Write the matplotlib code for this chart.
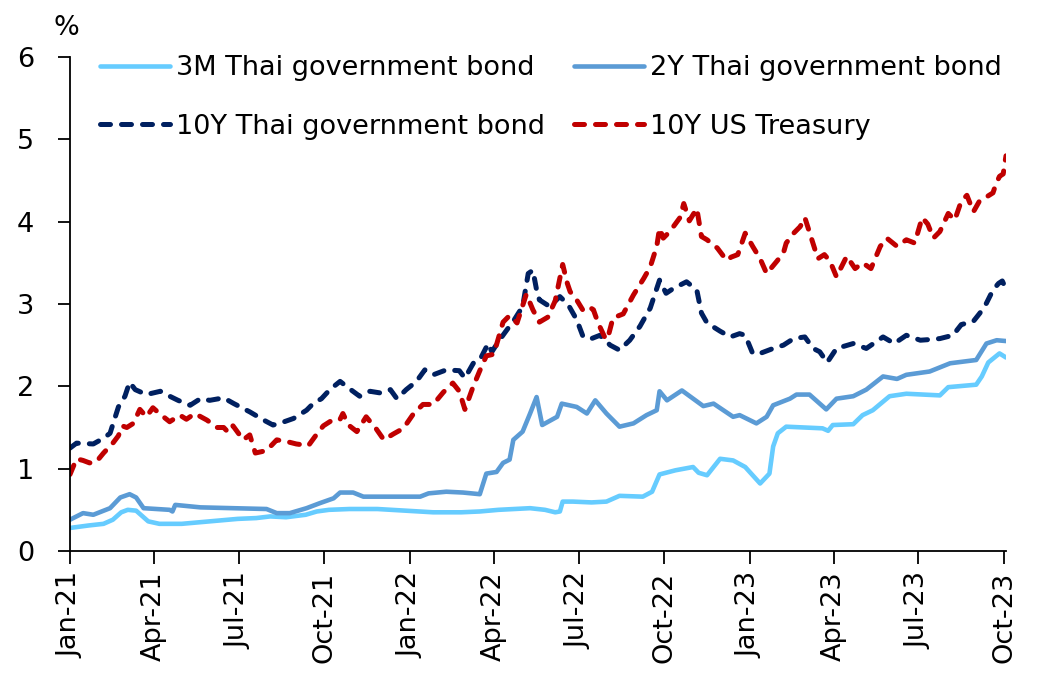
import matplotlib
matplotlib.use("Agg")
import matplotlib.pyplot as plt
import matplotlib.dates as mdates
import pandas as pd

# ---------------- data ----------------
m3_dates = ["2021-01-01","2021-01-21","2021-02-06","2021-02-16","2021-02-25","2021-03-04","2021-03-13",
            "2021-03-20","2021-03-26","2021-04-07","2021-05-01","2021-05-21","2021-06-10","2021-06-30",
            "2021-07-20","2021-08-04","2021-08-21","2021-09-11","2021-09-23","2021-10-06","2021-10-28",
            "2021-11-27","2021-12-27","2022-01-26","2022-02-25","2022-03-17","2022-04-06","2022-05-10",
            "2022-05-26","2022-06-06","2022-06-11","2022-06-14","2022-06-25","2022-07-15","2022-07-31",
            "2022-08-14","2022-09-08","2022-09-18","2022-09-26","2022-10-13","2022-11-01","2022-11-07",
            "2022-11-16","2022-11-30","2022-12-14","2022-12-27","2023-01-12","2023-01-22","2023-01-26",
            "2023-01-31","2023-02-09","2023-03-20","2023-03-26","2023-03-31","2023-04-22","2023-05-02",
            "2023-05-13","2023-05-31","2023-06-18","2023-07-24","2023-08-02","2023-09-01","2023-09-07",
            "2023-09-14","2023-09-26","2023-10-03"]
m3_values = [0.28,0.31,0.33,0.38,0.47,0.50,0.49,
             0.42,0.36,0.33,0.33,0.35,0.37,0.39,
             0.40,0.42,0.41,0.44,0.48,0.50,0.51,
             0.51,0.49,0.47,0.47,0.48,0.50,0.52,
             0.50,0.47,0.48,0.60,0.60,0.59,0.60,
             0.67,0.66,0.72,0.93,0.98,1.02,0.95,
             0.92,1.12,1.10,1.02,0.82,0.94,1.27,
             1.43,1.51,1.49,1.46,1.53,1.54,1.65,
             1.71,1.88,1.91,1.89,1.99,2.02,2.12,
             2.29,2.40,2.35]

y2_dates = ["2021-01-01","2021-01-15","2021-01-26","2021-02-13","2021-02-24","2021-03-06","2021-03-13",
            "2021-03-21","2021-04-18","2021-04-21","2021-04-24","2021-05-21","2021-06-25","2021-07-31",
            "2021-08-11","2021-08-25","2021-09-12","2021-09-26","2021-10-11","2021-10-18","2021-11-01",
            "2021-11-12","2021-12-14","2022-01-12","2022-01-21","2022-02-09","2022-02-27","2022-03-17",
            "2022-03-24","2022-04-04","2022-04-11","2022-04-18","2022-04-22","2022-05-02","2022-05-10",
            "2022-05-17","2022-05-23","2022-06-08","2022-06-13","2022-06-29","2022-07-10","2022-07-19",
            "2022-07-31","2022-08-14","2022-08-29","2022-09-12","2022-09-23","2022-09-26","2022-10-04",
            "2022-10-20","2022-11-12","2022-11-23","2022-12-14","2022-12-21","2023-01-08","2023-01-19",
            "2023-01-26","2023-02-13","2023-02-20","2023-03-06","2023-03-24","2023-04-04","2023-04-22",
            "2023-05-06","2023-05-24","2023-06-08","2023-06-18","2023-07-13","2023-08-04","2023-09-01",
            "2023-09-12","2023-09-23","2023-10-03"]
y2_values = [0.38,0.46,0.44,0.52,0.65,0.69,0.65,
             0.52,0.50,0.48,0.56,0.53,0.52,0.51,
             0.46,0.46,0.52,0.58,0.64,0.71,0.71,
             0.66,0.66,0.66,0.70,0.72,0.71,0.69,
             0.94,0.96,1.07,1.11,1.35,1.45,1.67,
             1.87,1.53,1.63,1.79,1.75,1.67,1.83,
             1.67,1.51,1.55,1.65,1.71,1.94,1.83,
             1.95,1.76,1.79,1.63,1.65,1.55,1.63,
             1.77,1.85,1.90,1.90,1.72,1.85,1.88,
             1.96,2.12,2.09,2.14,2.18,2.28,2.32,
             2.52,2.56,2.55]

th10_dates = ["2021-01-01","2021-01-08","2021-01-26","2021-02-06","2021-02-13","2021-02-22","2021-03-01",
              "2021-03-06","2021-03-12","2021-03-24","2021-04-08","2021-04-18","2021-04-27","2021-05-10",
              "2021-05-21","2021-05-31","2021-06-15","2021-06-26","2021-07-13","2021-07-28","2021-08-07",
              "2021-08-14","2021-08-29","2021-09-12","2021-09-19","2021-09-28","2021-10-07","2021-10-18",
              "2021-10-27","2021-11-08","2021-11-19","2021-11-30","2021-12-11","2021-12-18","2021-12-28",
              "2022-01-08","2022-01-17","2022-01-26","2022-02-09","2022-02-23","2022-03-01","2022-03-10",
              "2022-03-17","2022-03-26","2022-03-30","2022-04-07","2022-04-16","2022-04-22","2022-05-02",
              "2022-05-08","2022-05-13","2022-05-17","2022-05-20","2022-05-31","2022-06-11","2022-06-20",
              "2022-06-29","2022-07-06","2022-07-15","2022-07-24","2022-08-04","2022-08-14","2022-08-25",
              "2022-09-05","2022-09-16","2022-09-26","2022-10-03","2022-10-11","2022-10-25","2022-11-05",
              "2022-11-10","2022-11-16","2022-11-30","2022-12-11","2022-12-21","2022-12-27","2023-01-04",
              "2023-01-12","2023-01-26","2023-02-06","2023-02-17","2023-03-01","2023-03-10","2023-03-17",
              "2023-03-25","2023-04-04","2023-04-22","2023-05-06","2023-05-24","2023-06-05","2023-06-18",
              "2023-07-03","2023-07-15","2023-07-24","2023-08-07","2023-08-16","2023-08-29","2023-09-05",
              "2023-09-12","2023-09-19","2023-09-25","2023-09-29","2023-10-03"]
th10_values = [1.25,1.31,1.30,1.37,1.43,1.75,1.88,
               2.05,1.96,1.90,1.94,1.88,1.83,1.77,
               1.85,1.83,1.86,1.79,1.69,1.59,1.53,
               1.55,1.61,1.71,1.79,1.85,1.96,2.06,
               1.98,1.88,1.94,1.92,1.96,1.85,1.96,
               2.06,2.20,2.14,2.20,2.19,2.10,2.28,
               2.32,2.52,2.42,2.56,2.70,2.79,2.97,
               3.37,3.41,3.17,3.05,2.97,3.09,2.99,
               2.81,2.60,2.58,2.62,2.50,2.44,2.56,
               2.73,2.95,3.29,3.13,3.19,3.27,3.17,
               2.89,2.77,2.67,2.60,2.64,2.62,2.40,
               2.40,2.46,2.50,2.58,2.60,2.46,2.42,
               2.29,2.46,2.52,2.46,2.60,2.52,2.62,
               2.56,2.57,2.58,2.62,2.75,2.79,2.89,
               3.01,3.17,3.25,3.28,3.18]

us10_dates = ["2021-01-01","2021-01-08","2021-01-15","2021-01-22","2021-01-29","2021-02-06","2021-02-16",
              "2021-02-22","2021-02-26","2021-03-03","2021-03-10","2021-03-17","2021-03-24","2021-03-31",
              "2021-04-08","2021-04-18","2021-04-29","2021-05-06","2021-05-15","2021-05-28","2021-06-08",
              "2021-06-15","2021-06-20","2021-06-25","2021-07-06","2021-07-13","2021-07-19","2021-07-31",
              "2021-08-11","2021-08-25","2021-09-01","2021-09-14","2021-09-23","2021-09-30","2021-10-11",
              "2021-10-18","2021-10-21","2021-10-27","2021-11-05","2021-11-15","2021-11-26","2021-12-04",
              "2021-12-14","2021-12-25","2022-01-05","2022-01-15","2022-01-26","2022-02-06","2022-02-16",
              "2022-02-23","2022-03-01","2022-03-10","2022-03-17","2022-03-24","2022-04-01","2022-04-11",
              "2022-04-18","2022-04-26","2022-05-06","2022-05-13","2022-05-20","2022-05-29","2022-06-06",
              "2022-06-14","2022-06-19","2022-06-22","2022-06-29","2022-07-06","2022-07-13","2022-07-17",
              "2022-07-22","2022-07-29","2022-08-01","2022-08-07","2022-08-18","2022-08-29","2022-09-09",
              "2022-09-16","2022-09-23","2022-09-26","2022-09-30","2022-10-07","2022-10-18","2022-10-22",
              "2022-10-28","2022-11-05","2022-11-10","2022-11-16","2022-11-27","2022-12-07","2022-12-12",
              "2022-12-19","2022-12-27","2023-01-04","2023-01-12","2023-01-19","2023-01-30","2023-02-06",
              "2023-02-09","2023-02-17","2023-02-24","2023-03-01","2023-03-08","2023-03-15","2023-03-22",
              "2023-03-28","2023-04-04","2023-04-15","2023-04-24","2023-05-02","2023-05-11","2023-05-21",
              "2023-05-28","2023-06-08","2023-06-18","2023-06-27","2023-07-05","2023-07-11","2023-07-17",
              "2023-07-24","2023-08-02","2023-08-09","2023-08-16","2023-08-22","2023-08-29","2023-09-05",
              "2023-09-12","2023-09-19","2023-09-22","2023-09-26","2023-09-30","2023-10-03"]
us10_values = [0.93,1.12,1.10,1.07,1.08,1.19,1.31,
               1.40,1.52,1.50,1.55,1.72,1.63,1.74,
               1.66,1.57,1.65,1.60,1.67,1.59,1.50,
               1.50,1.44,1.52,1.35,1.41,1.19,1.22,
               1.35,1.32,1.30,1.28,1.42,1.52,1.60,
               1.60,1.67,1.53,1.45,1.63,1.48,1.35,
               1.42,1.49,1.67,1.78,1.78,1.93,2.04,
               1.94,1.72,2.00,2.19,2.37,2.39,2.78,
               2.86,2.77,3.12,2.93,2.78,2.84,3.04,
               3.48,3.25,3.15,3.05,2.92,2.96,2.93,
               2.77,2.60,2.57,2.83,2.88,3.11,3.31,
               3.45,3.70,3.92,3.80,3.88,4.05,4.22,
               4.01,4.16,3.82,3.78,3.68,3.53,3.57,
               3.60,3.86,3.70,3.55,3.37,3.52,3.62,
               3.74,3.86,3.94,4.05,3.80,3.55,3.60,
               3.52,3.33,3.58,3.43,3.50,3.43,3.70,
               3.80,3.70,3.78,3.74,4.05,3.97,3.80,
               3.88,4.10,4.02,4.25,4.32,4.12,4.26,
               4.30,4.35,4.45,4.55,4.58,4.80]

labels = ["3M Thai government bond", "2Y Thai government bond",
          "10Y Thai government bond", "10Y US Treasury"]
colors = ["#66CCFF", "#5B9BD5", "#002060", "#C00000"]
y_ticks = [0, 1, 2, 3, 4, 5, 6]
x_start, x_end = "2021-01-01", "2023-10-03"

# ---------------- figure ----------------
plt.rcParams['font.family'] = ['DejaVu Sans']
W, H = 1038, 677
fig = plt.figure(figsize=(W / 100, H / 100), dpi=100)
ax = fig.add_axes([70 / W, 1 - 551 / H, (1006 - 70) / W, (551 - 57) / H])

def d(lst):
    return pd.to_datetime(lst)

l3m, = ax.plot(d(m3_dates), m3_values, color=colors[0], lw=3.3, solid_capstyle='round',
               solid_joinstyle='round', label=labels[0])
l2y, = ax.plot(d(y2_dates), y2_values, color=colors[1], lw=3.3, solid_capstyle='round',
               solid_joinstyle='round', label=labels[1])
lth, = ax.plot(d(th10_dates), th10_values, color=colors[2], lw=3.6, dashes=(2.0, 2.2),
               dash_capstyle='round', label=labels[2])
lus, = ax.plot(d(us10_dates), us10_values, color=colors[3], lw=3.6, dashes=(2.0, 2.2),
               dash_capstyle='round', label=labels[3])

ax.set_ylim(0, 6)
ax.set_yticks(y_ticks)
ax.set_xlim(pd.Timestamp(x_start), pd.Timestamp(x_end))
ax.xaxis.set_major_locator(mdates.MonthLocator(bymonth=[1, 4, 7, 10]))
ax.xaxis.set_major_formatter(mdates.DateFormatter('%b-%y'))
for lab in ax.get_xticklabels():
    lab.set_rotation(90)

for s in ['top', 'right']:
    ax.spines[s].set_visible(False)
for s in ['left', 'bottom']:
    ax.spines[s].set_linewidth(1.3)
    ax.spines[s].set_color('black')
ax.tick_params(axis='both', direction='out', length=9, width=1.3, labelsize=19.5)
ax.tick_params(axis='y', pad=17)
ax.tick_params(axis='x', pad=6)

fig.text(66 / W, 1 - 28 / H, "%", fontsize=19.5, ha='center', va='center')

# row-wise legend order (matplotlib fills column by column)
handles = [l3m, lth, l2y, lus]
leg = fig.legend(handles, [h.get_label() for h in handles],
                 loc='upper left', bbox_to_anchor=(100 / W, 1 - 55 / H), ncol=2, frameon=False,
                 fontsize=19.5, handlelength=2.6, handletextpad=0.2, columnspacing=1.08,
                 labelspacing=1.2, borderaxespad=0, borderpad=0)

fig.savefig("out.png", dpi=100)
